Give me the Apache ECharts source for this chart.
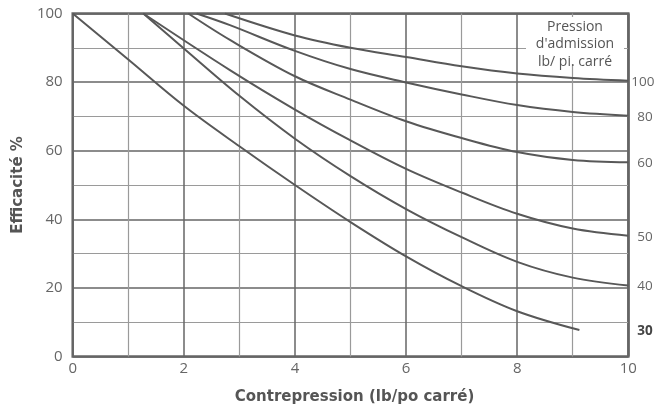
<!DOCTYPE html>
<html><head><meta charset="utf-8">
<script src="https://cdn.jsdelivr.net/npm/echarts@6/dist/echarts.min.js"></script>
<style>html,body{margin:0;padding:0;background:#fff}#c{width:656px;height:411px}</style>
</head><body><div id="c"></div>
<script>
const seriesNames = ['100','80','60','50','40','30'];
const x100 = [2.74, 4, 5, 6, 7, 8, 9, 10];
const y100 = [100, 93.6, 90, 87.3, 84.6, 82.5, 81.2, 80.4];
const x80 = [2.23, 2.83, 4, 5, 6, 7, 8, 9, 10];
const y80 = [100, 96.6, 89.1, 83.8, 79.9, 76.4, 73.3, 71.3, 70.2];
const x60 = [2.08, 2.83, 4, 5, 6, 7, 8, 9, 10];
const y60 = [100, 92.3, 81.7, 74.9, 68.6, 63.7, 59.6, 57.3, 56.6];
const x50 = [1.27, 2.83, 4, 5, 6, 7, 8, 9, 10];
const y50 = [100, 83.5, 72, 63.0, 54.7, 47.8, 41.6, 37.3, 35.2];
const x40 = [1.27, 2, 3, 4, 5, 6, 7, 8, 9, 10];
const y40 = [100, 89.8, 76, 63.5, 52.6, 43, 34.8, 27.6, 23, 20.7];
const x30 = [0, 1, 2, 3, 4, 5, 6, 7, 8, 9.12];
const y30 = [100, 86.6, 73.1, 61.3, 50, 39.2, 29.2, 20.5, 13.2, 7.7];
const xTicks = [0, 2, 4, 6, 8, 10];
const yTicks = [0, 20, 40, 60, 80, 100];
const xTitle = 'Contrepression (lb/po carré)';
const yTitle = 'Efficacité %';
const boxText = ['Pression', "d'admission", 'lb/ pi. carré'];

const allX = [x100, x80, x60, x50, x40, x30];
const allY = [y100, y80, y60, y50, y40, y30];
const FONT = '"Open Sans", sans-serif';
const TFONT = '"DejaVu Sans", sans-serif';

const chart = echarts.init(document.getElementById('c'), null, {renderer: 'canvas'});
const series = seriesNames.map((n, i) => ({
  name: n, type: 'line', smooth: 0.35, symbol: 'none',
  lineStyle: {color: '#585858', width: 2},
  data: allX[i].map((x, j) => [x, allY[i][j]]),
  z: 5
}));

chart.setOption({
  animation: false,
  grid: {left: 72.7, right: 27.7, top: 13.5, bottom: 54.5, show: true,
         borderColor: '#666', borderWidth: 2.5, backgroundColor: 'transparent'},
  xAxis: {
    type: 'value', min: xTicks[0], max: xTicks[xTicks.length - 1], interval: 2,
    name: xTitle, nameLocation: 'middle', nameGap: 33,
    nameTextStyle: {fontFamily: TFONT, fontSize: 15, fontWeight: 'bold', color: '#555', padding: [0, 0, 0, 8]},
    axisLine: {show: false}, axisTick: {show: false},
    axisLabel: {fontFamily: FONT, fontSize: 15, color: '#666', margin: 5},
    splitLine: {show: true, lineStyle: {color: '#666', width: 1.5}},
    minorTick: {show: false, splitNumber: 2},
    minorSplitLine: {show: true, lineStyle: {color: '#9a9a9a', width: 1.2}}
  },
  yAxis: {
    type: 'value', min: yTicks[0], max: yTicks[yTicks.length - 1], interval: 20,
    name: yTitle, nameLocation: 'middle', nameGap: 36,
    nameTextStyle: {fontFamily: TFONT, fontSize: 15, fontWeight: 'bold', color: '#555'},
    axisLine: {show: false}, axisTick: {show: false},
    axisLabel: {fontFamily: FONT, fontSize: 15, color: '#666', margin: 10},
    splitLine: {show: true, lineStyle: {color: '#666', width: 1.5}},
    minorTick: {show: false, splitNumber: 2},
    minorSplitLine: {show: true, lineStyle: {color: '#9a9a9a', width: 1.2}}
  },
  series: series
});

// right-side labels at the curve ends, positioned through the axes
const xMax = xTicks[xTicks.length - 1];
const graphics = seriesNames.map((n, i) => {
  const yEnd = allY[i][allY[i].length - 1];
  const p = chart.convertToPixel({gridIndex: 0}, [xMax, yEnd]);
  return {
    type: 'text', x: p[0] + (n === '100' ? 3 : 9), y: p[1] + 1,
    style: {text: n, fontFamily: FONT, fontSize: 13.5,
            fontWeight: n === '30' ? 'bold' : 'normal',
            fill: n === '30' ? '#444' : '#666', align: 'left', verticalAlign: 'middle'},
    z: 20
  };
});
graphics.push({type: 'rect', shape: {x: 526, y: 17, width: 98, height: 47},
  style: {fill: '#fff'}, z: 15});
boxText.forEach((t, k) => {
  graphics.push({type: 'text', x: 575, y: 27 + k * 17.5,
    style: {text: t, fontFamily: FONT, fontSize: 14, fill: '#555',
            align: 'center', verticalAlign: 'middle'}, z: 16});
});
chart.setOption({graphic: graphics});
</script>
</body></html>
